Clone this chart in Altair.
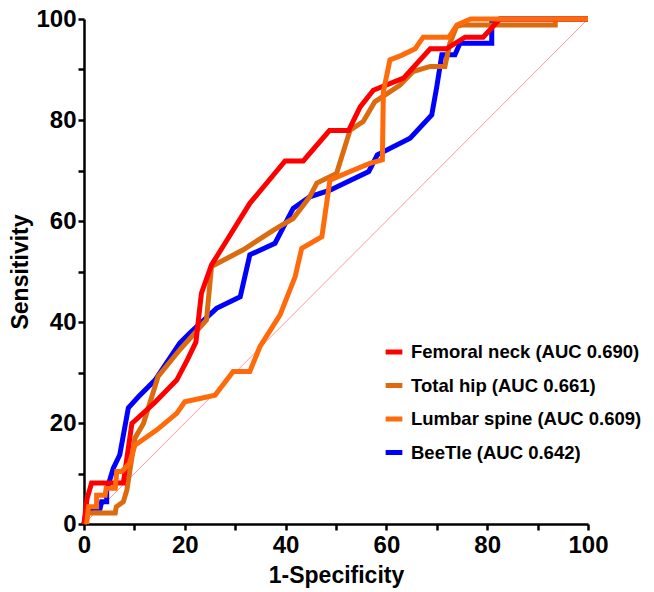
import altair as alt
import pandas as pd

# ---- data ----
series_names = [
    "Femoral neck (AUC 0.690)",
    "Total hip (AUC 0.661)",
    "Lumbar spine (AUC 0.609)",
    "BeeTle (AUC 0.642)",
]
series_colors = ["#FF0000", "#DC6A0E", "#FF6A0A", "#0000FF"]

fn_x = [0, 0.6, 1.5, 7.8, 9.5, 14.0, 18.4, 20.5, 22.2, 23.3, 25.3, 27.3, 32.9, 39.9, 43.5, 48.7, 52.5, 54.8, 57.4, 63.4, 68.7, 71.9, 75.6, 79.2, 82.5, 100]
fn_y = [0, 5.0, 8.1, 8.1, 19.9, 24.0, 28.5, 32.5, 36.0, 45.7, 51.3, 54.5, 63.5, 71.9, 71.9, 77.9, 77.9, 82.6, 85.9, 88.3, 94.1, 94.1, 96.4, 96.4, 100, 100]

th_x = [0, 0.9, 6.2, 6.4, 7.8, 8.5, 10.1, 11.8, 14.7, 19.0, 24.3, 25.3, 31.6, 37.6, 41.5, 44.8, 46.2, 50.1, 52.8, 55.4, 57.7, 62.7, 65.3, 68.7, 71.6, 72.6, 73.9, 74.9, 93.5, 93.5, 100]
th_y = [0, 2.2, 2.2, 3.4, 4.4, 6.7, 17.0, 19.9, 29.2, 34.5, 40.4, 51.0, 54.3, 58.2, 60.5, 64.8, 67.5, 69.4, 78.0, 79.7, 83.6, 86.9, 89.6, 90.6, 90.6, 95.2, 98.5, 98.8, 98.8, 100, 100]

ls_x = [0.5, 0.9, 2.5, 2.5, 4.2, 4.4, 6.2, 6.5, 7.5, 9.0, 10.1, 14.4, 18.4, 20.0, 26.0, 29.6, 32.9, 34.9, 38.9, 41.9, 43.2, 47.2, 48.8, 52.8, 56.7, 59.2, 59.4, 60.7, 63.0, 65.7, 67.3, 72.4, 74.0, 76.7, 100]
ls_y = [0, 3.4, 3.4, 5.7, 5.7, 7.1, 7.1, 10.4, 10.4, 12.0, 15.6, 18.6, 21.9, 24.2, 25.5, 30.2, 30.2, 35.1, 41.4, 49.0, 54.6, 56.9, 68.1, 69.8, 71.4, 72.1, 85.6, 91.9, 92.8, 94.1, 96.4, 96.4, 98.8, 100, 100]

bt_x = [0, 0.3, 1.5, 3.2, 3.5, 4.5, 4.5, 5.8, 7.1, 8.8, 10.8, 14.1, 19.0, 21.0, 26.3, 31.0, 32.9, 37.9, 41.5, 44.8, 48.8, 56.5, 58.2, 64.7, 69.0, 70.0, 71.0, 73.6, 74.6, 80.9, 80.9, 82.5, 100]
bt_y = [0, 1.8, 3.1, 3.1, 4.4, 4.4, 6.7, 11.0, 13.7, 23.0, 25.2, 28.5, 35.8, 37.8, 42.7, 45.0, 53.3, 55.6, 62.5, 64.8, 66.1, 69.8, 73.1, 76.4, 81.0, 86.6, 92.9, 92.9, 95.2, 95.2, 99.3, 100, 100]

diag_x = [0, 100]
diag_y = [0, 100]

tick_values = [0, 10, 20, 30, 40, 50, 60, 70, 80, 90, 100]

# ---- build tables ----
rows = []
for name, xs, ys in zip(series_names, [fn_x, th_x, ls_x, bt_x], [fn_y, th_y, ls_y, bt_y]):
    for i, (a, b) in enumerate(zip(xs, ys)):
        rows.append({"series": name, "x": a, "y": b, "i": i})
df = pd.DataFrame(rows)
diag = pd.DataFrame({"x": diag_x, "y": diag_y})

FONT = "Liberation Sans"
xscale = alt.Scale(domain=[0, 100], nice=False, zero=False)
yscale = alt.Scale(domain=[0, 100], nice=False, zero=False)
label_expr = "datum.value % 20 == 0 ? datum.label : ''"

common_axis = dict(
    values=tick_values, labelExpr=label_expr, grid=False, labelFlush=False,
    domainColor="black", domainWidth=2.5, tickColor="black", tickWidth=2.5,
    tickSize=6, labelFont=FONT, labelFontSize=24, labelFontWeight="bold",
    labelColor="black", titleFont=FONT, titleFontSize=23,
    titleFontWeight="bold", titleColor="black",
)
xa = alt.Axis(title="1-Specificity", labelPadding=3, titlePadding=7, **common_axis)
ya = alt.Axis(title="Sensitivity", labelPadding=2, titlePadding=3, **common_axis)

color = alt.Color(
    "series:N",
    scale=alt.Scale(domain=series_names, range=series_colors),
    legend=alt.Legend(
        title=None,
        orient="none",
        legendX=299,
        legendY=322,
        symbolType="stroke",
        symbolStrokeWidth=5,
        symbolSize=280,
        labelFont=FONT,
        labelFontSize=18.5,
        labelFontWeight="bold",
        labelColor="black",
        labelLimit=400,
        labelOffset=6,
        rowPadding=12.5,
        padding=0,
    ),
)

diag_layer = alt.Chart(diag).mark_line(color="#FF8C8C", strokeWidth=0.9).encode(
    x=alt.X("x:Q", scale=xscale, axis=xa),
    y=alt.Y("y:Q", scale=yscale, axis=ya),
)

draw_order = ["BeeTle (AUC 0.642)", "Total hip (AUC 0.661)", "Femoral neck (AUC 0.690)", "Lumbar spine (AUC 0.609)"]

layers = [diag_layer]
for name in draw_order:
    layers.append(
        alt.Chart(df)
        .transform_filter(alt.datum.series == name)
        .mark_line(strokeWidth=5, strokeJoin="miter", clip=False)
        .encode(
            x=alt.X("x:Q", scale=xscale, axis=xa),
            y=alt.Y("y:Q", scale=yscale, axis=ya),
            color=color,
            order="i:Q",
        )
    )

chart = (
    alt.layer(*layers)
    .properties(
        width=504,
        height=505,
        autosize=alt.AutoSizeParams(type="none"),
        padding={"left": 76, "top": 11, "right": 58, "bottom": 66},
        background="white",
    )
    .configure_view(stroke=None)
)

chart.save("out.html", embed_options={"renderer": "svg", "actions": False})
